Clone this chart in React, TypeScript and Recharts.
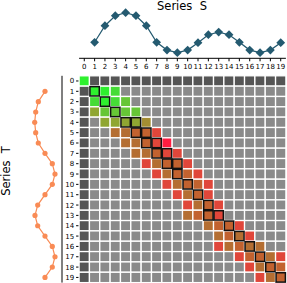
import { ScatterChart, Scatter, XAxis, YAxis } from 'recharts';

// tick labels / indices 0..19
const ticks = Array.from({ length: 20 }, (_, i) => i);

// series values for index 1..19 (index 0 is the empty padding cell)
const seriesS = [-0.48, 0.35, 0.85, 1.0, 0.85, 0.35, -0.48, -0.87, -1.0, -0.87, -0.5, -0.1, 0.03, -0.1, -0.48, -0.87, -1.0, -0.87, -0.5];
const seriesT = [0, -0.67, -0.93, -1.03, -0.93, -0.67, 0, 0.73, 1.0, 0.73, 0, -0.73, -1.0, -0.73, 0, 0.73, 1.0, 0.73, 0];

// cost matrix colour codes, one string per row (D padding, . not computed)
const costRows = [
  'GDDDDDDDDDDDDDDDDDDD',
  'DGGg................',
  'DgGgl...............',
  'Dollll..............',
  'D.ooooy.............',
  'D..bbccr............',
  'D...bbcrR...........',
  'D....bbcrr..........',
  'D.....rbccr.........',
  'D......rbccr........',
  'D.......rbccr.......',
  'D........rbcr.......',
  'D.........rbcr......',
  'D.........bccr......',
  'D...........bccr....',
  'D............bcbr...',
  'D............rbcbb..',
  'D..............rccbr',
  'D...............rbcc',
  'D................rbc',
];

// warping path
const pathRows = [1, 2, 3, 4, 4, 5, 5, 6, 6, 7, 7, 8, 8, 9, 10, 11, 12, 13, 13, 14, 15, 16, 17, 18, 19];
const pathCols = [1, 2, 3, 4, 5, 5, 6, 6, 7, 7, 8, 8, 9, 9, 10, 11, 12, 12, 13, 14, 15, 16, 17, 18, 19];

const palette: Record<string, string> = {
  D: '#555555',
  '.': '#8a8a8a',
  G: '#2ef02e',
  g: '#45dc36',
  l: '#66c636',
  o: '#8fa632',
  y: '#a48e32',
  b: '#b46e32',
  c: '#c2622f',
  r: '#e0463a',
  R: '#ff1c40',
};

const HM_LEFT = 79.1;
const HM_TOP = 75.8;
const HM_SIZE = 206.8;
const CELL = HM_SIZE / 20;

const cells = costRows.flatMap((row, r) =>
  row.split('').map((k, c) => ({ c, r, fill: palette[k] })),
);
const pathData = pathRows.map((r, k) => ({ r, c: pathCols[k] }));
const sData = seriesS.map((v, k) => ({ i: k + 1, v }));
const tData = seriesT.map((v, k) => ({ i: k + 1, v }));

const CellShape = (p: any) => (
  <rect x={p.cx - CELL / 2} y={p.cy - CELL / 2} width={CELL} height={CELL}
    fill={p.payload.fill} stroke="#ffffff" strokeWidth={1.3} />
);

const PathShape = (p: any) => (
  <rect x={p.cx - CELL / 2 + 0.5} y={p.cy - CELL / 2 + 0.5} width={CELL - 1} height={CELL - 1}
    fill="none" stroke="#111111" strokeWidth={1.5} />
);

const Diamond = (p: any) => (
  <path d={`M${p.cx},${p.cy - 4.4}L${p.cx + 4.4},${p.cy}L${p.cx},${p.cy + 4.4}L${p.cx - 4.4},${p.cy}Z`}
    fill="#245a70" />
);

const Dot = (p: any) => <circle cx={p.cx} cy={p.cy} r={2.6} fill="#f98b55" />;

const tickFont = { fontSize: 7, fill: '#000', fontFamily: 'DejaVu Sans' };

export default function App() {
  return (
    <div style={{ position: 'absolute', left: 0, top: 0, width: 287, height: 283, background: '#fff', fontFamily: 'DejaVu Sans' }}>
      {/* Series S */}
      <div style={{ position: 'absolute', left: 0, top: 0 }}>
        <ScatterChart width={287} height={75} margin={{ top: 0.3, left: HM_LEFT, right: 287 - HM_LEFT - HM_SIZE, bottom: 2.7 }}>
          <XAxis type="number" dataKey="i" domain={[-0.5, 19.5]} ticks={ticks} interval={0} height={14}
            tickSize={3} tickMargin={3} tick={tickFont} axisLine={{ stroke: '#000' }} tickLine={{ stroke: '#000' }} />
          <YAxis type="number" dataKey="v" domain={[-1.28, 1.62]} hide />
          <Scatter data={sData} shape={Diamond} line={{ stroke: '#245a70', strokeWidth: 1.2 }} isAnimationActive={false} />
        </ScatterChart>
      </div>
      {/* Series T */}
      <div style={{ position: 'absolute', left: 0, top: 0 }}>
        <ScatterChart width={79} height={283} margin={{ top: HM_TOP, left: 15, right: 11, bottom: 283 - HM_TOP - HM_SIZE }}>
          <XAxis type="number" dataKey="v" domain={[-3, 1.7]} hide />
          <YAxis type="number" dataKey="i" reversed domain={[-0.5, 19.5]} ticks={ticks} interval={0}
            orientation="right" width={6} tick={false} tickSize={2.5} axisLine={{ stroke: '#000' }} tickLine={{ stroke: '#000' }} />
          <Scatter data={tData} shape={Dot} line={{ stroke: '#f98b55', strokeWidth: 1.2 }} isAnimationActive={false} />
        </ScatterChart>
      </div>
      {/* cost matrix */}
      <div style={{ position: 'absolute', left: 0, top: 0 }}>
        <ScatterChart width={287} height={283} margin={{ top: HM_TOP - 3, left: HM_LEFT - 20, right: 287 - HM_LEFT - HM_SIZE, bottom: 283 - HM_TOP - HM_SIZE }}>
          <XAxis type="number" dataKey="c" orientation="top" domain={[-0.5, 19.5]} ticks={ticks} interval={0}
            height={3} tick={false} tickSize={2} axisLine={false} tickLine={{ stroke: '#777' }} />
          <YAxis type="number" dataKey="r" reversed domain={[-0.5, 19.5]} ticks={ticks} interval={0}
            width={20} tickSize={3} tickMargin={2} tick={tickFont} axisLine={false} tickLine={{ stroke: '#000' }} />
          <Scatter data={cells} shape={CellShape} isAnimationActive={false} />
          <Scatter data={pathData} shape={PathShape} isAnimationActive={false} />
        </ScatterChart>
      </div>
      <svg width={287} height={283} style={{ position: 'absolute', left: 0, top: 0, pointerEvents: 'none' }}>
        <text x={182} y={9.5} textAnchor="middle" fontSize={11.5} fontFamily="DejaVu Sans" style={{ whiteSpace: 'pre' }}>Series  S</text>
        <text x={10} y={171} textAnchor="middle" fontSize={11.5} fontFamily="DejaVu Sans" transform="rotate(-90 10 171)" style={{ whiteSpace: 'pre' }}>Series  T</text>
      </svg>
    </div>
  );
}
